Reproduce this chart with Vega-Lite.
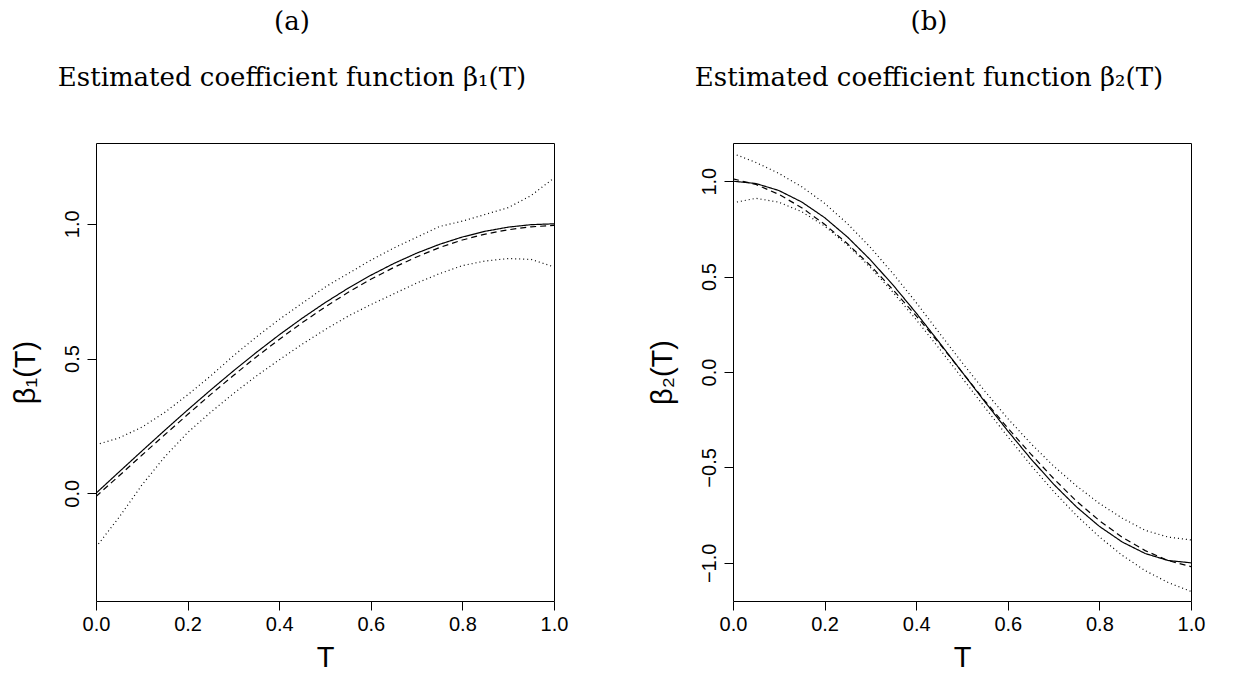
{
  "$schema": "https://vega.github.io/schema/vega-lite/v6.json",
  "autosize": {"type": "pad"},
  "padding": {"left": 10, "top": 8, "right": 0, "bottom": 0},
  "background": "white",
  "spacing": 179,
  "bounds": "flush",
  "config": {
    "view": {"stroke": "black", "strokeWidth": 1},
    "axis": {"domain": false, "grid": false, "tickColor": "black", "tickSize": 9, "tickWidth": 1,
      "labelFont": "Liberation Sans", "labelFontSize": 20, "labelColor": "black", "labelPadding": 4,
      "titleFont": "Liberation Sans", "titleFontSize": 29, "titleFontWeight": "normal", "titleColor": "black"},
    "axisX": {"titlePadding": 9, "labelFlush": false},
    "axisY": {"labelAngle": -90, "labelAlign": "center", "labelBaseline": "bottom", "labelPadding": 5, "titlePadding": 22, "labelFlush": false},
    "title": {"font": "DejaVu Serif", "fontSize": 26, "fontWeight": "normal", "color": "black",
      "subtitleFont": "DejaVu Serif", "subtitleFontSize": 26, "subtitleColor": "black", "subtitlePadding": 30,
      "offset": 52, "dx": -33, "anchor": "middle"}
  },
  "hconcat": [
    {
      "width": 458, "height": 458,
      "title": {"text": "(a)", "subtitle": "Estimated coefficient function β₁(T)"},
      "data": {"values": [
        {"T":0,"v":0,"s":"true"},{"T":0.05,"v":0.0785,"s":"true"},{"T":0.1,"v":0.1564,"s":"true"},{"T":0.15,"v":0.2334,"s":"true"},{"T":0.2,"v":0.309,"s":"true"},{"T":0.25,"v":0.3827,"s":"true"},{"T":0.3,"v":0.454,"s":"true"},{"T":0.35,"v":0.5225,"s":"true"},{"T":0.4,"v":0.5878,"s":"true"},{"T":0.45,"v":0.6494,"s":"true"},{"T":0.5,"v":0.7071,"s":"true"},{"T":0.55,"v":0.7604,"s":"true"},{"T":0.6,"v":0.809,"s":"true"},{"T":0.65,"v":0.8526,"s":"true"},{"T":0.7,"v":0.891,"s":"true"},{"T":0.75,"v":0.9239,"s":"true"},{"T":0.8,"v":0.9511,"s":"true"},{"T":0.85,"v":0.9724,"s":"true"},{"T":0.9,"v":0.9877,"s":"true"},{"T":0.95,"v":0.9969,"s":"true"},{"T":1,"v":1.0,"s":"true"},
        {"T":0,"v":-0.012,"s":"est"},{"T":0.05,"v":0.064,"s":"est"},{"T":0.1,"v":0.141,"s":"est"},{"T":0.15,"v":0.217,"s":"est"},{"T":0.2,"v":0.292,"s":"est"},{"T":0.25,"v":0.366,"s":"est"},{"T":0.3,"v":0.437,"s":"est"},{"T":0.35,"v":0.506,"s":"est"},{"T":0.4,"v":0.571,"s":"est"},{"T":0.45,"v":0.633,"s":"est"},{"T":0.5,"v":0.691,"s":"est"},{"T":0.55,"v":0.745,"s":"est"},{"T":0.6,"v":0.794,"s":"est"},{"T":0.65,"v":0.838,"s":"est"},{"T":0.7,"v":0.877,"s":"est"},{"T":0.75,"v":0.912,"s":"est"},{"T":0.8,"v":0.94,"s":"est"},{"T":0.85,"v":0.962,"s":"est"},{"T":0.9,"v":0.978,"s":"est"},{"T":0.95,"v":0.989,"s":"est"},{"T":1,"v":0.994,"s":"est"},
        {"T":0,"v":0.18,"s":"upper"},{"T":0.05,"v":0.205,"s":"upper"},{"T":0.1,"v":0.245,"s":"upper"},{"T":0.15,"v":0.3,"s":"upper"},{"T":0.2,"v":0.365,"s":"upper"},{"T":0.25,"v":0.435,"s":"upper"},{"T":0.3,"v":0.51,"s":"upper"},{"T":0.35,"v":0.58,"s":"upper"},{"T":0.4,"v":0.645,"s":"upper"},{"T":0.45,"v":0.705,"s":"upper"},{"T":0.5,"v":0.765,"s":"upper"},{"T":0.55,"v":0.815,"s":"upper"},{"T":0.6,"v":0.865,"s":"upper"},{"T":0.65,"v":0.91,"s":"upper"},{"T":0.7,"v":0.95,"s":"upper"},{"T":0.75,"v":0.99,"s":"upper"},{"T":0.8,"v":1.01,"s":"upper"},{"T":0.85,"v":1.035,"s":"upper"},{"T":0.9,"v":1.06,"s":"upper"},{"T":0.95,"v":1.105,"s":"upper"},{"T":1,"v":1.17,"s":"upper"},
        {"T":0,"v":-0.2,"s":"lower"},{"T":0.05,"v":-0.09,"s":"lower"},{"T":0.1,"v":0.03,"s":"lower"},{"T":0.15,"v":0.135,"s":"lower"},{"T":0.2,"v":0.225,"s":"lower"},{"T":0.25,"v":0.3,"s":"lower"},{"T":0.3,"v":0.37,"s":"lower"},{"T":0.35,"v":0.435,"s":"lower"},{"T":0.4,"v":0.495,"s":"lower"},{"T":0.45,"v":0.553,"s":"lower"},{"T":0.5,"v":0.607,"s":"lower"},{"T":0.55,"v":0.657,"s":"lower"},{"T":0.6,"v":0.7,"s":"lower"},{"T":0.65,"v":0.74,"s":"lower"},{"T":0.7,"v":0.78,"s":"lower"},{"T":0.75,"v":0.815,"s":"lower"},{"T":0.8,"v":0.845,"s":"lower"},{"T":0.85,"v":0.862,"s":"lower"},{"T":0.9,"v":0.871,"s":"lower"},{"T":0.95,"v":0.868,"s":"lower"},{"T":1,"v":0.84,"s":"lower"}
      ]},
      "mark": {"type": "line", "color": "black", "strokeWidth": 1.2, "clip": true},
      "encoding": {
        "x": {"field": "T", "type": "quantitative", "scale": {"domain": [0, 1], "nice": false, "zero": false},
          "axis": {"values": [0, 0.2, 0.4, 0.6, 0.8, 1], "format": ".1f", "title": "T"}},
        "y": {"field": "v", "type": "quantitative", "scale": {"domain": [-0.4, 1.3], "nice": false, "zero": false},
          "axis": {"values": [0, 0.5, 1], "format": ".1f", "title": "β₁(T)"}},
        "detail": {"field": "s", "type": "nominal"},
        "strokeDash": {"field": "s", "type": "nominal", "legend": null,
          "scale": {"domain": ["true", "est", "upper", "lower"], "range": [[1, 0], [6, 4], [1, 3], [1, 3]]}}
      }
    },
    {
      "width": 458, "height": 458,
      "title": {"text": "(b)", "subtitle": "Estimated coefficient function β₂(T)"},
      "data": {"values": [
        {"T":0,"v":1.0,"s":"true"},{"T":0.05,"v":0.9877,"s":"true"},{"T":0.1,"v":0.9511,"s":"true"},{"T":0.15,"v":0.891,"s":"true"},{"T":0.2,"v":0.809,"s":"true"},{"T":0.25,"v":0.7071,"s":"true"},{"T":0.3,"v":0.5878,"s":"true"},{"T":0.35,"v":0.454,"s":"true"},{"T":0.4,"v":0.309,"s":"true"},{"T":0.45,"v":0.1564,"s":"true"},{"T":0.5,"v":0.0,"s":"true"},{"T":0.55,"v":-0.1564,"s":"true"},{"T":0.6,"v":-0.309,"s":"true"},{"T":0.65,"v":-0.454,"s":"true"},{"T":0.7,"v":-0.5878,"s":"true"},{"T":0.75,"v":-0.7071,"s":"true"},{"T":0.8,"v":-0.809,"s":"true"},{"T":0.85,"v":-0.891,"s":"true"},{"T":0.9,"v":-0.9511,"s":"true"},{"T":0.95,"v":-0.9877,"s":"true"},{"T":1,"v":-1.0,"s":"true"},
        {"T":0,"v":1.012,"s":"est"},{"T":0.05,"v":0.983,"s":"est"},{"T":0.1,"v":0.931,"s":"est"},{"T":0.15,"v":0.861,"s":"est"},{"T":0.2,"v":0.774,"s":"est"},{"T":0.25,"v":0.672,"s":"est"},{"T":0.3,"v":0.558,"s":"est"},{"T":0.35,"v":0.429,"s":"est"},{"T":0.4,"v":0.294,"s":"est"},{"T":0.45,"v":0.151,"s":"est"},{"T":0.5,"v":0.0,"s":"est"},{"T":0.55,"v":-0.151,"s":"est"},{"T":0.6,"v":-0.294,"s":"est"},{"T":0.65,"v":-0.429,"s":"est"},{"T":0.7,"v":-0.558,"s":"est"},{"T":0.75,"v":-0.677,"s":"est"},{"T":0.8,"v":-0.779,"s":"est"},{"T":0.85,"v":-0.866,"s":"est"},{"T":0.9,"v":-0.936,"s":"est"},{"T":0.95,"v":-0.988,"s":"est"},{"T":1,"v":-1.02,"s":"est"},
        {"T":0,"v":1.145,"s":"upper"},{"T":0.05,"v":1.098,"s":"upper"},{"T":0.1,"v":1.041,"s":"upper"},{"T":0.15,"v":0.971,"s":"upper"},{"T":0.2,"v":0.884,"s":"upper"},{"T":0.25,"v":0.777,"s":"upper"},{"T":0.3,"v":0.653,"s":"upper"},{"T":0.35,"v":0.514,"s":"upper"},{"T":0.4,"v":0.364,"s":"upper"},{"T":0.45,"v":0.206,"s":"upper"},{"T":0.5,"v":0.05,"s":"upper"},{"T":0.55,"v":-0.101,"s":"upper"},{"T":0.6,"v":-0.244,"s":"upper"},{"T":0.65,"v":-0.374,"s":"upper"},{"T":0.7,"v":-0.493,"s":"upper"},{"T":0.75,"v":-0.597,"s":"upper"},{"T":0.8,"v":-0.689,"s":"upper"},{"T":0.85,"v":-0.766,"s":"upper"},{"T":0.9,"v":-0.83,"s":"upper"},{"T":0.95,"v":-0.865,"s":"upper"},{"T":1,"v":-0.88,"s":"upper"},
        {"T":0,"v":0.887,"s":"lower"},{"T":0.05,"v":0.91,"s":"lower"},{"T":0.1,"v":0.89,"s":"lower"},{"T":0.15,"v":0.84,"s":"lower"},{"T":0.2,"v":0.765,"s":"lower"},{"T":0.25,"v":0.665,"s":"lower"},{"T":0.3,"v":0.548,"s":"lower"},{"T":0.35,"v":0.416,"s":"lower"},{"T":0.4,"v":0.274,"s":"lower"},{"T":0.45,"v":0.124,"s":"lower"},{"T":0.5,"v":-0.03,"s":"lower"},{"T":0.55,"v":-0.186,"s":"lower"},{"T":0.6,"v":-0.339,"s":"lower"},{"T":0.65,"v":-0.487,"s":"lower"},{"T":0.7,"v":-0.626,"s":"lower"},{"T":0.75,"v":-0.752,"s":"lower"},{"T":0.8,"v":-0.864,"s":"lower"},{"T":0.85,"v":-0.961,"s":"lower"},{"T":0.9,"v":-1.041,"s":"lower"},{"T":0.95,"v":-1.103,"s":"lower"},{"T":1,"v":-1.15,"s":"lower"}
      ]},
      "mark": {"type": "line", "color": "black", "strokeWidth": 1.2, "clip": true},
      "encoding": {
        "x": {"field": "T", "type": "quantitative", "scale": {"domain": [0, 1], "nice": false, "zero": false},
          "axis": {"values": [0, 0.2, 0.4, 0.6, 0.8, 1], "format": ".1f", "title": "T"}},
        "y": {"field": "v", "type": "quantitative", "scale": {"domain": [-1.2, 1.2], "nice": false, "zero": false},
          "axis": {"values": [-1, -0.5, 0, 0.5, 1], "format": ".1f", "title": "β₂(T)"}},
        "detail": {"field": "s", "type": "nominal"},
        "strokeDash": {"field": "s", "type": "nominal", "legend": null,
          "scale": {"domain": ["true", "est", "upper", "lower"], "range": [[1, 0], [6, 4], [1, 3], [1, 3]]}}
      }
    }
  ]
}
